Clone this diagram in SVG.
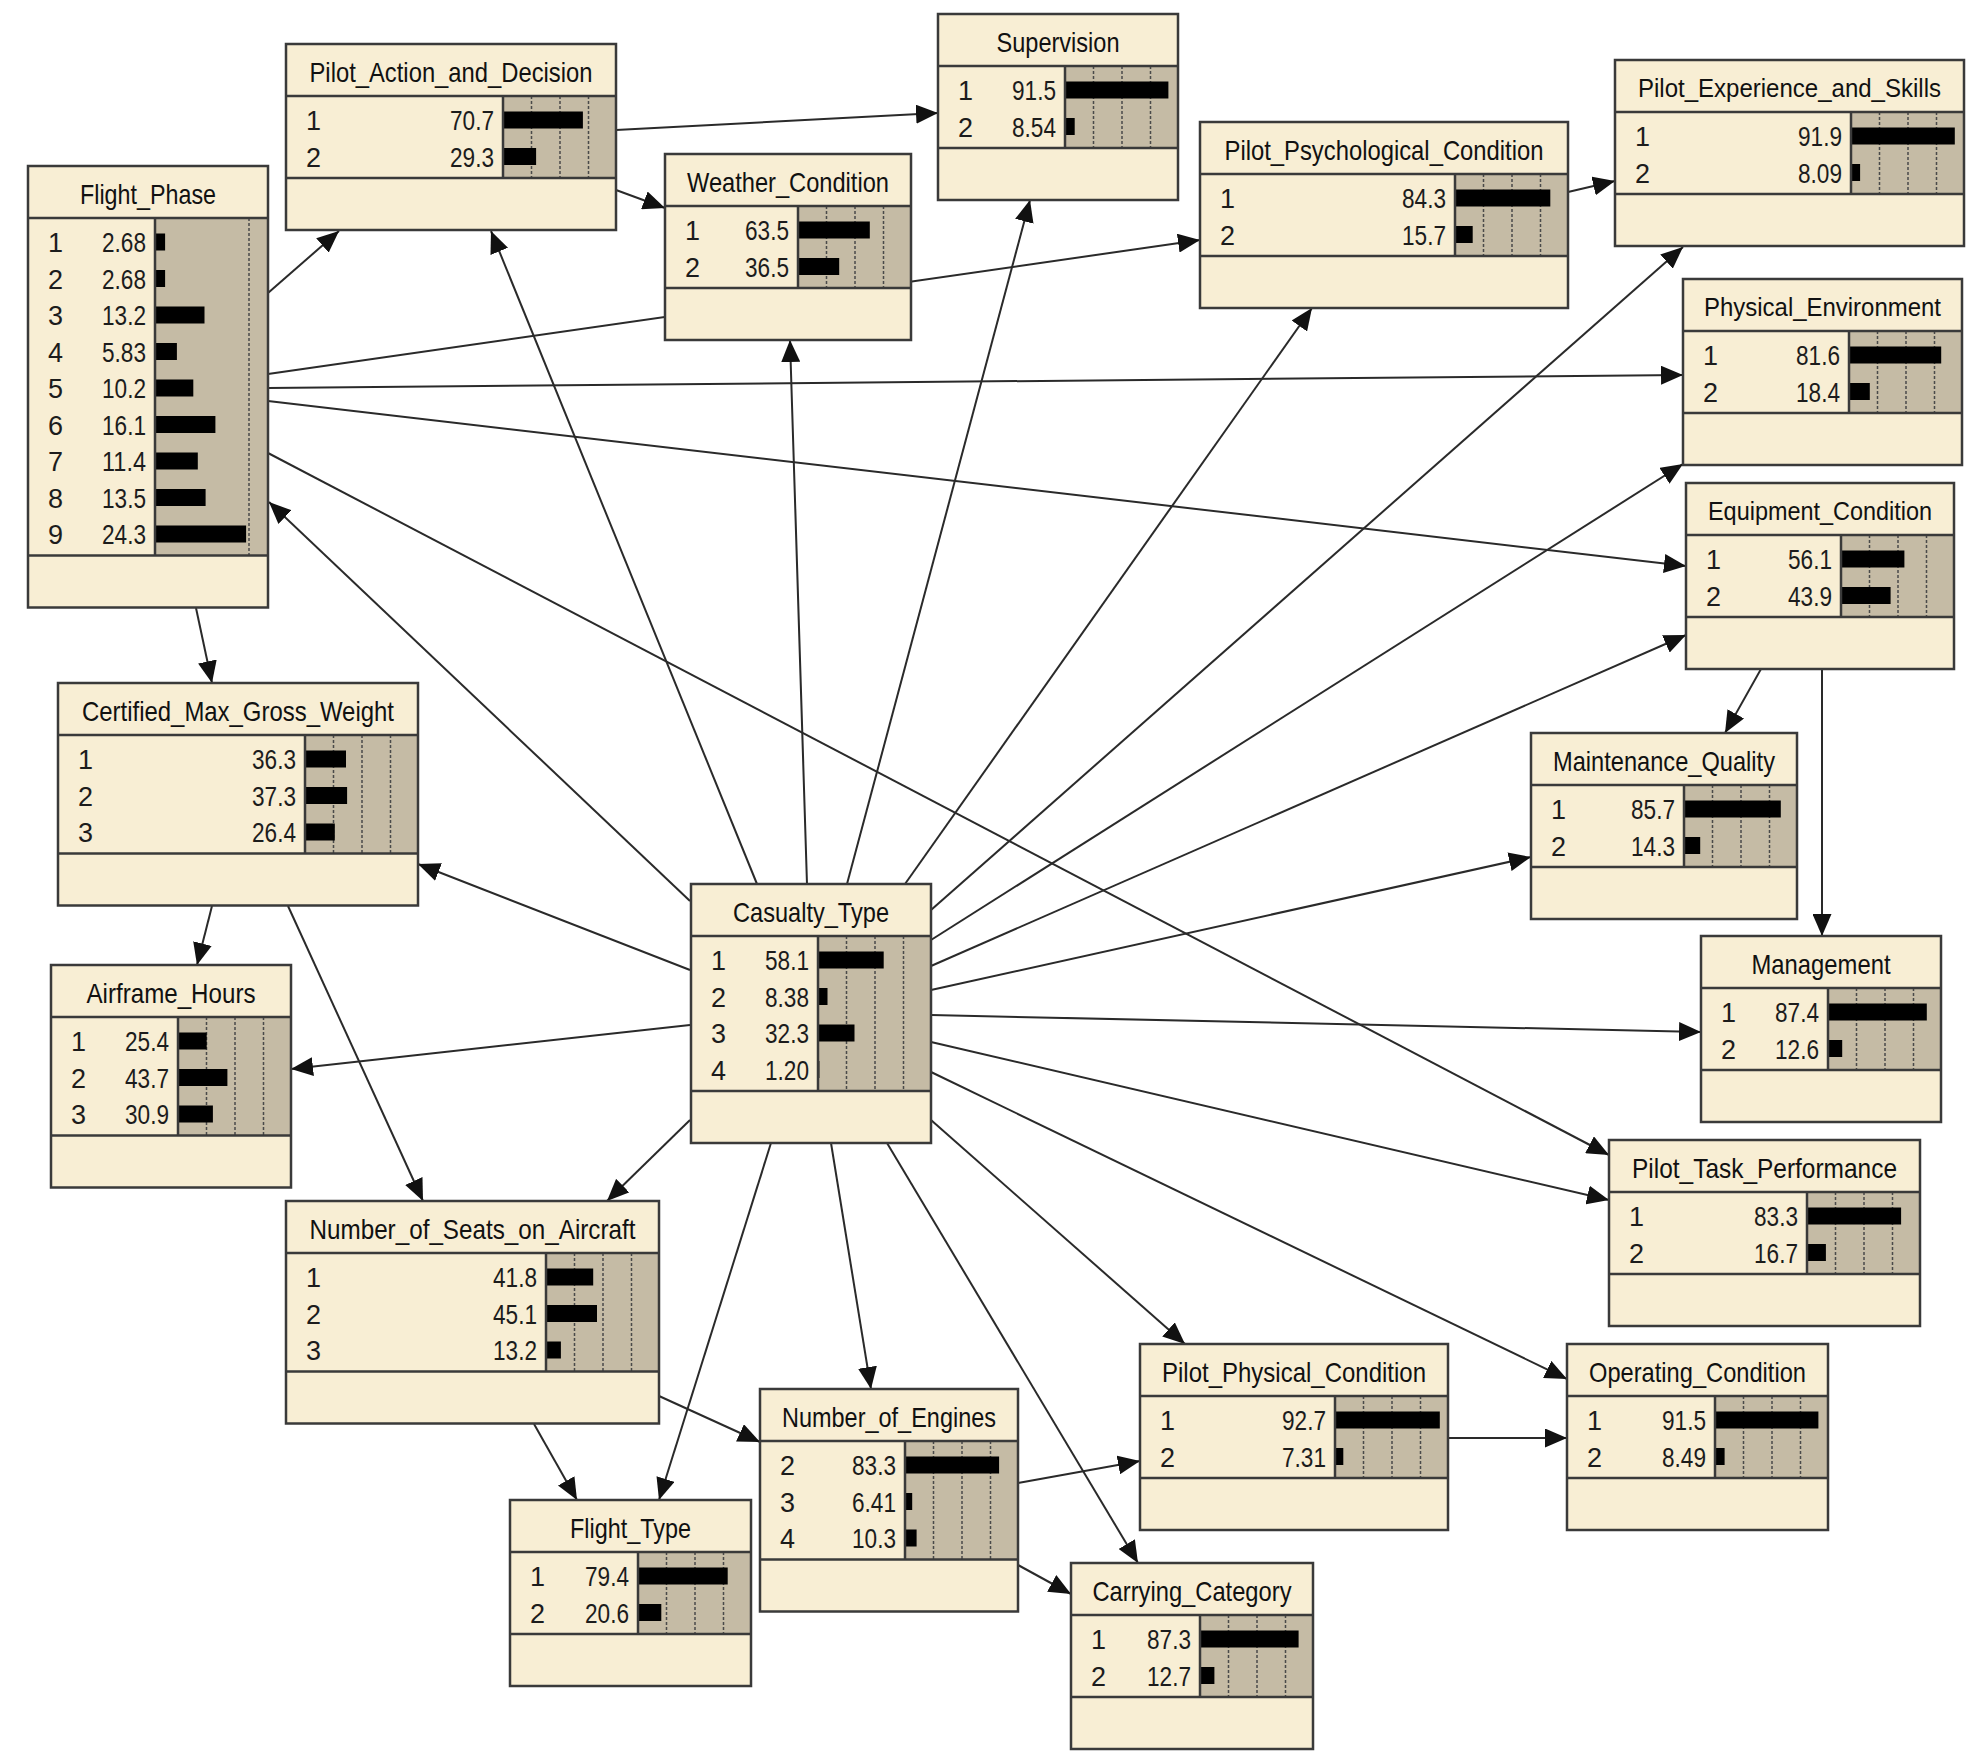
<svg xmlns="http://www.w3.org/2000/svg" width="1978" height="1761" viewBox="0 0 1978 1761">
<defs>
<marker id="a" viewBox="0 0 22 19" refX="22" refY="9.5" markerWidth="22" markerHeight="19" markerUnits="userSpaceOnUse" orient="auto"><path d="M0,0 L22,9.5 L0,19 z" fill="#111"/></marker>
<style>
.f{fill:#f8eed4}
.o{fill:none;stroke:#3a3a3a;stroke-width:2.5}
.bb{fill:#c5bba5}
.sp{stroke:#3a3a3a;stroke-width:2.5}
.g{stroke:#4a4a4a;stroke-width:1.5;stroke-dasharray:3,2}
.b{fill:#000}
.t{font-family:"Liberation Sans",Arial,sans-serif;font-size:28px;fill:#111;text-anchor:middle}
.t2{font-family:"Liberation Sans",Arial,sans-serif;font-size:26px;fill:#111;text-anchor:middle}
.s{font-family:"Liberation Sans",Arial,sans-serif;font-size:27px;fill:#1c1c1c}
.v{font-family:"Liberation Sans",Arial,sans-serif;font-size:27px;fill:#1c1c1c;text-anchor:end}
.e{stroke:#2a2a2a;stroke-width:2;fill:none;marker-end:url(#a)}
</style>
</defs>
<rect width="1978" height="1761" fill="#fff"/>
<g id="connectors">
<line class="e" x1="268" y1="293" x2="339" y2="231"/>
<line class="e" x1="268" y1="374" x2="1200" y2="240"/>
<line class="e" x1="268" y1="388" x2="1683" y2="375"/>
<line class="e" x1="268" y1="401" x2="1686" y2="566"/>
<line class="e" x1="268" y1="453" x2="1609" y2="1155"/>
<line class="e" x1="690" y1="901" x2="269" y2="502"/>
<line class="e" x1="757" y1="884" x2="491" y2="231"/>
<line class="e" x1="807" y1="884" x2="790" y2="340"/>
<line class="e" x1="847" y1="884" x2="1030" y2="200"/>
<line class="e" x1="905" y1="884" x2="1312" y2="308"/>
<line class="e" x1="931" y1="910" x2="1683" y2="247"/>
<line class="e" x1="931" y1="940" x2="1683" y2="464"/>
<line class="e" x1="931" y1="966" x2="1686" y2="635"/>
<line class="e" x1="931" y1="990" x2="1531" y2="857"/>
<line class="e" x1="931" y1="1015" x2="1701" y2="1032"/>
<line class="e" x1="931" y1="1042" x2="1609" y2="1200"/>
<line class="e" x1="931" y1="1072" x2="1567" y2="1379"/>
<line class="e" x1="931" y1="1120" x2="1185" y2="1344"/>
<line class="e" x1="887" y1="1143" x2="1138" y2="1563"/>
<line class="e" x1="831" y1="1143" x2="871" y2="1389"/>
<line class="e" x1="771" y1="1143" x2="659" y2="1500"/>
<line class="e" x1="690" y1="1120" x2="607" y2="1201"/>
<line class="e" x1="690" y1="1025" x2="291" y2="1069"/>
<line class="e" x1="690" y1="970" x2="418" y2="864"/>
<line class="e" x1="196" y1="608" x2="212" y2="683"/>
<line class="e" x1="212" y1="906" x2="197" y2="965"/>
<line class="e" x1="288" y1="906" x2="423" y2="1201"/>
<line class="e" x1="616" y1="130" x2="938" y2="113"/>
<line class="e" x1="616" y1="190" x2="665" y2="208"/>
<line class="e" x1="1568" y1="192" x2="1615" y2="181"/>
<line class="e" x1="1761" y1="669" x2="1725" y2="733"/>
<line class="e" x1="1822" y1="669" x2="1822" y2="936"/>
<line class="e" x1="534" y1="1424" x2="577" y2="1500"/>
<line class="e" x1="659" y1="1396" x2="760" y2="1442"/>
<line class="e" x1="1018" y1="1483" x2="1140" y2="1461"/>
<line class="e" x1="1018" y1="1565" x2="1071" y2="1594"/>
<line class="e" x1="1448" y1="1438" x2="1567" y2="1438"/>
</g>

<g id="n-Flight_Phase">
<rect class="f" x="28" y="166" width="240" height="441.5"/>
<rect class="bb" x="155" y="218" width="113" height="337.5"/>
<line class="g" x1="249" y1="218" x2="249" y2="555.5"/>
<rect class="b" x="155" y="233.5" width="10.1" height="17"/>
<rect class="b" x="155" y="270" width="10.1" height="17"/>
<rect class="b" x="155" y="306.5" width="49.5" height="17"/>
<rect class="b" x="155" y="343" width="21.9" height="17"/>
<rect class="b" x="155" y="379.5" width="38.3" height="17"/>
<rect class="b" x="155" y="416" width="60.4" height="17"/>
<rect class="b" x="155" y="452.5" width="42.8" height="17"/>
<rect class="b" x="155" y="489" width="50.6" height="17"/>
<rect class="b" x="155" y="525.5" width="91.1" height="17"/>
<line class="sp" x1="28" y1="218" x2="268" y2="218"/>
<line class="sp" x1="28" y1="555.5" x2="268" y2="555.5"/>
<line class="sp" x1="155" y1="218" x2="155" y2="555.5"/>
<text class="t" x="148" y="204" textLength="136" lengthAdjust="spacingAndGlyphs">Flight_Phase</text>
<text class="s" x="48" y="252">1</text><text class="v" x="146" y="252" textLength="44" lengthAdjust="spacingAndGlyphs">2.68</text>
<text class="s" x="48" y="288.5">2</text><text class="v" x="146" y="288.5" textLength="44" lengthAdjust="spacingAndGlyphs">2.68</text>
<text class="s" x="48" y="325">3</text><text class="v" x="146" y="325" textLength="44" lengthAdjust="spacingAndGlyphs">13.2</text>
<text class="s" x="48" y="361.5">4</text><text class="v" x="146" y="361.5" textLength="44" lengthAdjust="spacingAndGlyphs">5.83</text>
<text class="s" x="48" y="398">5</text><text class="v" x="146" y="398" textLength="44" lengthAdjust="spacingAndGlyphs">10.2</text>
<text class="s" x="48" y="434.5">6</text><text class="v" x="146" y="434.5" textLength="44" lengthAdjust="spacingAndGlyphs">16.1</text>
<text class="s" x="48" y="471">7</text><text class="v" x="146" y="471" textLength="44" lengthAdjust="spacingAndGlyphs">11.4</text>
<text class="s" x="48" y="507.5">8</text><text class="v" x="146" y="507.5" textLength="44" lengthAdjust="spacingAndGlyphs">13.5</text>
<text class="s" x="48" y="544">9</text><text class="v" x="146" y="544" textLength="44" lengthAdjust="spacingAndGlyphs">24.3</text>
<rect class="o" x="28" y="166" width="240" height="441.5"/>
</g>

<g id="n-Pilot_Action_and_Decision">
<rect class="f" x="286" y="44" width="330" height="186"/>
<rect class="bb" x="503" y="96" width="113" height="82"/>
<line class="g" x1="531.5" y1="96" x2="531.5" y2="178"/><line class="g" x1="560" y1="96" x2="560" y2="178"/><line class="g" x1="588.5" y1="96" x2="588.5" y2="178"/>
<rect class="b" x="503" y="111.5" width="79.9" height="17"/>
<rect class="b" x="503" y="148" width="33.1" height="17"/>
<line class="sp" x1="286" y1="96" x2="616" y2="96"/>
<line class="sp" x1="286" y1="178" x2="616" y2="178"/>
<line class="sp" x1="503" y1="96" x2="503" y2="178"/>
<text class="t" x="451" y="82" textLength="283" lengthAdjust="spacingAndGlyphs">Pilot_Action_and_Decision</text>
<text class="s" x="306" y="130">1</text><text class="v" x="494" y="130" textLength="44" lengthAdjust="spacingAndGlyphs">70.7</text>
<text class="s" x="306" y="166.5">2</text><text class="v" x="494" y="166.5" textLength="44" lengthAdjust="spacingAndGlyphs">29.3</text>
<rect class="o" x="286" y="44" width="330" height="186"/>
</g>

<g id="n-Weather_Condition">
<rect class="f" x="665" y="154" width="246" height="186"/>
<rect class="bb" x="798" y="206" width="113" height="82"/>
<line class="g" x1="826.5" y1="206" x2="826.5" y2="288"/><line class="g" x1="855" y1="206" x2="855" y2="288"/><line class="g" x1="883.5" y1="206" x2="883.5" y2="288"/>
<rect class="b" x="798" y="221.5" width="71.8" height="17"/>
<rect class="b" x="798" y="258" width="41.2" height="17"/>
<line class="sp" x1="665" y1="206" x2="911" y2="206"/>
<line class="sp" x1="665" y1="288" x2="911" y2="288"/>
<line class="sp" x1="798" y1="206" x2="798" y2="288"/>
<text class="t" x="788" y="192" textLength="202" lengthAdjust="spacingAndGlyphs">Weather_Condition</text>
<text class="s" x="685" y="240">1</text><text class="v" x="789" y="240" textLength="44" lengthAdjust="spacingAndGlyphs">63.5</text>
<text class="s" x="685" y="276.5">2</text><text class="v" x="789" y="276.5" textLength="44" lengthAdjust="spacingAndGlyphs">36.5</text>
<rect class="o" x="665" y="154" width="246" height="186"/>
</g>

<g id="n-Supervision">
<rect class="f" x="938" y="14" width="240" height="186"/>
<rect class="bb" x="1065" y="66" width="113" height="82"/>
<line class="g" x1="1093.5" y1="66" x2="1093.5" y2="148"/><line class="g" x1="1122" y1="66" x2="1122" y2="148"/><line class="g" x1="1150.5" y1="66" x2="1150.5" y2="148"/>
<rect class="b" x="1065" y="81.5" width="103.4" height="17"/>
<rect class="b" x="1065" y="118" width="9.7" height="17"/>
<line class="sp" x1="938" y1="66" x2="1178" y2="66"/>
<line class="sp" x1="938" y1="148" x2="1178" y2="148"/>
<line class="sp" x1="1065" y1="66" x2="1065" y2="148"/>
<text class="t" x="1058" y="52" textLength="123" lengthAdjust="spacingAndGlyphs">Supervision</text>
<text class="s" x="958" y="100">1</text><text class="v" x="1056" y="100" textLength="44" lengthAdjust="spacingAndGlyphs">91.5</text>
<text class="s" x="958" y="136.5">2</text><text class="v" x="1056" y="136.5" textLength="44" lengthAdjust="spacingAndGlyphs">8.54</text>
<rect class="o" x="938" y="14" width="240" height="186"/>
</g>

<g id="n-Pilot_Psychological_Condition">
<rect class="f" x="1200" y="122" width="368" height="186"/>
<rect class="bb" x="1455" y="174" width="113" height="82"/>
<line class="g" x1="1483.5" y1="174" x2="1483.5" y2="256"/><line class="g" x1="1512" y1="174" x2="1512" y2="256"/><line class="g" x1="1540.5" y1="174" x2="1540.5" y2="256"/>
<rect class="b" x="1455" y="189.5" width="95.3" height="17"/>
<rect class="b" x="1455" y="226" width="17.7" height="17"/>
<line class="sp" x1="1200" y1="174" x2="1568" y2="174"/>
<line class="sp" x1="1200" y1="256" x2="1568" y2="256"/>
<line class="sp" x1="1455" y1="174" x2="1455" y2="256"/>
<text class="t" x="1384" y="160" textLength="319" lengthAdjust="spacingAndGlyphs">Pilot_Psychological_Condition</text>
<text class="s" x="1220" y="208">1</text><text class="v" x="1446" y="208" textLength="44" lengthAdjust="spacingAndGlyphs">84.3</text>
<text class="s" x="1220" y="244.5">2</text><text class="v" x="1446" y="244.5" textLength="44" lengthAdjust="spacingAndGlyphs">15.7</text>
<rect class="o" x="1200" y="122" width="368" height="186"/>
</g>

<g id="n-Pilot_Experience_and_Skills">
<rect class="f" x="1615" y="60" width="349" height="186"/>
<rect class="bb" x="1851" y="112" width="113" height="82"/>
<line class="g" x1="1879.5" y1="112" x2="1879.5" y2="194"/><line class="g" x1="1908" y1="112" x2="1908" y2="194"/><line class="g" x1="1936.5" y1="112" x2="1936.5" y2="194"/>
<rect class="b" x="1851" y="127.5" width="103.8" height="17"/>
<rect class="b" x="1851" y="164" width="9.1" height="17"/>
<line class="sp" x1="1615" y1="112" x2="1964" y2="112"/>
<line class="sp" x1="1615" y1="194" x2="1964" y2="194"/>
<line class="sp" x1="1851" y1="112" x2="1851" y2="194"/>
<text class="t2" x="1789.5" y="97" textLength="303" lengthAdjust="spacingAndGlyphs">Pilot_Experience_and_Skills</text>
<text class="s" x="1635" y="146">1</text><text class="v" x="1842" y="146" textLength="44" lengthAdjust="spacingAndGlyphs">91.9</text>
<text class="s" x="1635" y="182.5">2</text><text class="v" x="1842" y="182.5" textLength="44" lengthAdjust="spacingAndGlyphs">8.09</text>
<rect class="o" x="1615" y="60" width="349" height="186"/>
</g>

<g id="n-Physical_Environment">
<rect class="f" x="1683" y="279" width="279" height="186"/>
<rect class="bb" x="1849" y="331" width="113" height="82"/>
<line class="g" x1="1877.5" y1="331" x2="1877.5" y2="413"/><line class="g" x1="1906" y1="331" x2="1906" y2="413"/><line class="g" x1="1934.5" y1="331" x2="1934.5" y2="413"/>
<rect class="b" x="1849" y="346.5" width="92.2" height="17"/>
<rect class="b" x="1849" y="383" width="20.8" height="17"/>
<line class="sp" x1="1683" y1="331" x2="1962" y2="331"/>
<line class="sp" x1="1683" y1="413" x2="1962" y2="413"/>
<line class="sp" x1="1849" y1="331" x2="1849" y2="413"/>
<text class="t2" x="1822.5" y="316" textLength="237" lengthAdjust="spacingAndGlyphs">Physical_Environment</text>
<text class="s" x="1703" y="365">1</text><text class="v" x="1840" y="365" textLength="44" lengthAdjust="spacingAndGlyphs">81.6</text>
<text class="s" x="1703" y="401.5">2</text><text class="v" x="1840" y="401.5" textLength="44" lengthAdjust="spacingAndGlyphs">18.4</text>
<rect class="o" x="1683" y="279" width="279" height="186"/>
</g>

<g id="n-Equipment_Condition">
<rect class="f" x="1686" y="483" width="268" height="186"/>
<rect class="bb" x="1841" y="535" width="113" height="82"/>
<line class="g" x1="1869.5" y1="535" x2="1869.5" y2="617"/><line class="g" x1="1898" y1="535" x2="1898" y2="617"/><line class="g" x1="1926.5" y1="535" x2="1926.5" y2="617"/>
<rect class="b" x="1841" y="550.5" width="63.4" height="17"/>
<rect class="b" x="1841" y="587" width="49.6" height="17"/>
<line class="sp" x1="1686" y1="535" x2="1954" y2="535"/>
<line class="sp" x1="1686" y1="617" x2="1954" y2="617"/>
<line class="sp" x1="1841" y1="535" x2="1841" y2="617"/>
<text class="t2" x="1820" y="520" textLength="224" lengthAdjust="spacingAndGlyphs">Equipment_Condition</text>
<text class="s" x="1706" y="569">1</text><text class="v" x="1832" y="569" textLength="44" lengthAdjust="spacingAndGlyphs">56.1</text>
<text class="s" x="1706" y="605.5">2</text><text class="v" x="1832" y="605.5" textLength="44" lengthAdjust="spacingAndGlyphs">43.9</text>
<rect class="o" x="1686" y="483" width="268" height="186"/>
</g>

<g id="n-Certified_Max_Gross_Weight">
<rect class="f" x="58" y="683" width="360" height="222.5"/>
<rect class="bb" x="305" y="735" width="113" height="118.5"/>
<line class="g" x1="333.5" y1="735" x2="333.5" y2="853.5"/><line class="g" x1="362" y1="735" x2="362" y2="853.5"/><line class="g" x1="390.5" y1="735" x2="390.5" y2="853.5"/>
<rect class="b" x="305" y="750.5" width="41" height="17"/>
<rect class="b" x="305" y="787" width="42.1" height="17"/>
<rect class="b" x="305" y="823.5" width="29.8" height="17"/>
<line class="sp" x1="58" y1="735" x2="418" y2="735"/>
<line class="sp" x1="58" y1="853.5" x2="418" y2="853.5"/>
<line class="sp" x1="305" y1="735" x2="305" y2="853.5"/>
<text class="t" x="238" y="721" textLength="312" lengthAdjust="spacingAndGlyphs">Certified_Max_Gross_Weight</text>
<text class="s" x="78" y="769">1</text><text class="v" x="296" y="769" textLength="44" lengthAdjust="spacingAndGlyphs">36.3</text>
<text class="s" x="78" y="805.5">2</text><text class="v" x="296" y="805.5" textLength="44" lengthAdjust="spacingAndGlyphs">37.3</text>
<text class="s" x="78" y="842">3</text><text class="v" x="296" y="842" textLength="44" lengthAdjust="spacingAndGlyphs">26.4</text>
<rect class="o" x="58" y="683" width="360" height="222.5"/>
</g>

<g id="n-Casualty_Type">
<rect class="f" x="691" y="884" width="240" height="259"/>
<rect class="bb" x="818" y="936" width="113" height="155"/>
<line class="g" x1="846.5" y1="936" x2="846.5" y2="1091"/><line class="g" x1="875" y1="936" x2="875" y2="1091"/><line class="g" x1="903.5" y1="936" x2="903.5" y2="1091"/>
<rect class="b" x="818" y="951.5" width="65.7" height="17"/>
<rect class="b" x="818" y="988" width="9.5" height="17"/>
<rect class="b" x="818" y="1024.5" width="36.5" height="17"/>
<rect class="b" x="818" y="1061" width="1.4" height="17"/>
<line class="sp" x1="691" y1="936" x2="931" y2="936"/>
<line class="sp" x1="691" y1="1091" x2="931" y2="1091"/>
<line class="sp" x1="818" y1="936" x2="818" y2="1091"/>
<text class="t" x="811" y="922" textLength="156" lengthAdjust="spacingAndGlyphs">Casualty_Type</text>
<text class="s" x="711" y="970">1</text><text class="v" x="809" y="970" textLength="44" lengthAdjust="spacingAndGlyphs">58.1</text>
<text class="s" x="711" y="1006.5">2</text><text class="v" x="809" y="1006.5" textLength="44" lengthAdjust="spacingAndGlyphs">8.38</text>
<text class="s" x="711" y="1043">3</text><text class="v" x="809" y="1043" textLength="44" lengthAdjust="spacingAndGlyphs">32.3</text>
<text class="s" x="711" y="1079.5">4</text><text class="v" x="809" y="1079.5" textLength="44" lengthAdjust="spacingAndGlyphs">1.20</text>
<rect class="o" x="691" y="884" width="240" height="259"/>
</g>

<g id="n-Maintenance_Quality">
<rect class="f" x="1531" y="733" width="266" height="186"/>
<rect class="bb" x="1684" y="785" width="113" height="82"/>
<line class="g" x1="1712.5" y1="785" x2="1712.5" y2="867"/><line class="g" x1="1741" y1="785" x2="1741" y2="867"/><line class="g" x1="1769.5" y1="785" x2="1769.5" y2="867"/>
<rect class="b" x="1684" y="800.5" width="96.8" height="17"/>
<rect class="b" x="1684" y="837" width="16.2" height="17"/>
<line class="sp" x1="1531" y1="785" x2="1797" y2="785"/>
<line class="sp" x1="1531" y1="867" x2="1797" y2="867"/>
<line class="sp" x1="1684" y1="785" x2="1684" y2="867"/>
<text class="t" x="1664" y="771" textLength="222" lengthAdjust="spacingAndGlyphs">Maintenance_Quality</text>
<text class="s" x="1551" y="819">1</text><text class="v" x="1675" y="819" textLength="44" lengthAdjust="spacingAndGlyphs">85.7</text>
<text class="s" x="1551" y="855.5">2</text><text class="v" x="1675" y="855.5" textLength="44" lengthAdjust="spacingAndGlyphs">14.3</text>
<rect class="o" x="1531" y="733" width="266" height="186"/>
</g>

<g id="n-Airframe_Hours">
<rect class="f" x="51" y="965" width="240" height="222.5"/>
<rect class="bb" x="178" y="1017" width="113" height="118.5"/>
<line class="g" x1="206.5" y1="1017" x2="206.5" y2="1135.5"/><line class="g" x1="235" y1="1017" x2="235" y2="1135.5"/><line class="g" x1="263.5" y1="1017" x2="263.5" y2="1135.5"/>
<rect class="b" x="178" y="1032.5" width="28.7" height="17"/>
<rect class="b" x="178" y="1069" width="49.4" height="17"/>
<rect class="b" x="178" y="1105.5" width="34.9" height="17"/>
<line class="sp" x1="51" y1="1017" x2="291" y2="1017"/>
<line class="sp" x1="51" y1="1135.5" x2="291" y2="1135.5"/>
<line class="sp" x1="178" y1="1017" x2="178" y2="1135.5"/>
<text class="t" x="171" y="1003" textLength="169" lengthAdjust="spacingAndGlyphs">Airframe_Hours</text>
<text class="s" x="71" y="1051">1</text><text class="v" x="169" y="1051" textLength="44" lengthAdjust="spacingAndGlyphs">25.4</text>
<text class="s" x="71" y="1087.5">2</text><text class="v" x="169" y="1087.5" textLength="44" lengthAdjust="spacingAndGlyphs">43.7</text>
<text class="s" x="71" y="1124">3</text><text class="v" x="169" y="1124" textLength="44" lengthAdjust="spacingAndGlyphs">30.9</text>
<rect class="o" x="51" y="965" width="240" height="222.5"/>
</g>

<g id="n-Management">
<rect class="f" x="1701" y="936" width="240" height="186"/>
<rect class="bb" x="1828" y="988" width="113" height="82"/>
<line class="g" x1="1856.5" y1="988" x2="1856.5" y2="1070"/><line class="g" x1="1885" y1="988" x2="1885" y2="1070"/><line class="g" x1="1913.5" y1="988" x2="1913.5" y2="1070"/>
<rect class="b" x="1828" y="1003.5" width="98.8" height="17"/>
<rect class="b" x="1828" y="1040" width="14.2" height="17"/>
<line class="sp" x1="1701" y1="988" x2="1941" y2="988"/>
<line class="sp" x1="1701" y1="1070" x2="1941" y2="1070"/>
<line class="sp" x1="1828" y1="988" x2="1828" y2="1070"/>
<text class="t" x="1821" y="974" textLength="139" lengthAdjust="spacingAndGlyphs">Management</text>
<text class="s" x="1721" y="1022">1</text><text class="v" x="1819" y="1022" textLength="44" lengthAdjust="spacingAndGlyphs">87.4</text>
<text class="s" x="1721" y="1058.5">2</text><text class="v" x="1819" y="1058.5" textLength="44" lengthAdjust="spacingAndGlyphs">12.6</text>
<rect class="o" x="1701" y="936" width="240" height="186"/>
</g>

<g id="n-Number_of_Seats_on_Aircraft">
<rect class="f" x="286" y="1201" width="373" height="222.5"/>
<rect class="bb" x="546" y="1253" width="113" height="118.5"/>
<line class="g" x1="574.5" y1="1253" x2="574.5" y2="1371.5"/><line class="g" x1="603" y1="1253" x2="603" y2="1371.5"/><line class="g" x1="631.5" y1="1253" x2="631.5" y2="1371.5"/>
<rect class="b" x="546" y="1268.5" width="47.2" height="17"/>
<rect class="b" x="546" y="1305" width="51" height="17"/>
<rect class="b" x="546" y="1341.5" width="14.9" height="17"/>
<line class="sp" x1="286" y1="1253" x2="659" y2="1253"/>
<line class="sp" x1="286" y1="1371.5" x2="659" y2="1371.5"/>
<line class="sp" x1="546" y1="1253" x2="546" y2="1371.5"/>
<text class="t" x="472.5" y="1239" textLength="326" lengthAdjust="spacingAndGlyphs">Number_of_Seats_on_Aircraft</text>
<text class="s" x="306" y="1287">1</text><text class="v" x="537" y="1287" textLength="44" lengthAdjust="spacingAndGlyphs">41.8</text>
<text class="s" x="306" y="1323.5">2</text><text class="v" x="537" y="1323.5" textLength="44" lengthAdjust="spacingAndGlyphs">45.1</text>
<text class="s" x="306" y="1360">3</text><text class="v" x="537" y="1360" textLength="44" lengthAdjust="spacingAndGlyphs">13.2</text>
<rect class="o" x="286" y="1201" width="373" height="222.5"/>
</g>

<g id="n-Pilot_Task_Performance">
<rect class="f" x="1609" y="1140" width="311" height="186"/>
<rect class="bb" x="1807" y="1192" width="113" height="82"/>
<line class="g" x1="1835.5" y1="1192" x2="1835.5" y2="1274"/><line class="g" x1="1864" y1="1192" x2="1864" y2="1274"/><line class="g" x1="1892.5" y1="1192" x2="1892.5" y2="1274"/>
<rect class="b" x="1807" y="1207.5" width="94.1" height="17"/>
<rect class="b" x="1807" y="1244" width="18.9" height="17"/>
<line class="sp" x1="1609" y1="1192" x2="1920" y2="1192"/>
<line class="sp" x1="1609" y1="1274" x2="1920" y2="1274"/>
<line class="sp" x1="1807" y1="1192" x2="1807" y2="1274"/>
<text class="t" x="1764.5" y="1178" textLength="265" lengthAdjust="spacingAndGlyphs">Pilot_Task_Performance</text>
<text class="s" x="1629" y="1226">1</text><text class="v" x="1798" y="1226" textLength="44" lengthAdjust="spacingAndGlyphs">83.3</text>
<text class="s" x="1629" y="1262.5">2</text><text class="v" x="1798" y="1262.5" textLength="44" lengthAdjust="spacingAndGlyphs">16.7</text>
<rect class="o" x="1609" y="1140" width="311" height="186"/>
</g>

<g id="n-Pilot_Physical_Condition">
<rect class="f" x="1140" y="1344" width="308" height="186"/>
<rect class="bb" x="1335" y="1396" width="113" height="82"/>
<line class="g" x1="1363.5" y1="1396" x2="1363.5" y2="1478"/><line class="g" x1="1392" y1="1396" x2="1392" y2="1478"/><line class="g" x1="1420.5" y1="1396" x2="1420.5" y2="1478"/>
<rect class="b" x="1335" y="1411.5" width="104.8" height="17"/>
<rect class="b" x="1335" y="1448" width="8.3" height="17"/>
<line class="sp" x1="1140" y1="1396" x2="1448" y2="1396"/>
<line class="sp" x1="1140" y1="1478" x2="1448" y2="1478"/>
<line class="sp" x1="1335" y1="1396" x2="1335" y2="1478"/>
<text class="t" x="1294" y="1382" textLength="264" lengthAdjust="spacingAndGlyphs">Pilot_Physical_Condition</text>
<text class="s" x="1160" y="1430">1</text><text class="v" x="1326" y="1430" textLength="44" lengthAdjust="spacingAndGlyphs">92.7</text>
<text class="s" x="1160" y="1466.5">2</text><text class="v" x="1326" y="1466.5" textLength="44" lengthAdjust="spacingAndGlyphs">7.31</text>
<rect class="o" x="1140" y="1344" width="308" height="186"/>
</g>

<g id="n-Operating_Condition">
<rect class="f" x="1567" y="1344" width="261" height="186"/>
<rect class="bb" x="1715" y="1396" width="113" height="82"/>
<line class="g" x1="1743.5" y1="1396" x2="1743.5" y2="1478"/><line class="g" x1="1772" y1="1396" x2="1772" y2="1478"/><line class="g" x1="1800.5" y1="1396" x2="1800.5" y2="1478"/>
<rect class="b" x="1715" y="1411.5" width="103.4" height="17"/>
<rect class="b" x="1715" y="1448" width="9.6" height="17"/>
<line class="sp" x1="1567" y1="1396" x2="1828" y2="1396"/>
<line class="sp" x1="1567" y1="1478" x2="1828" y2="1478"/>
<line class="sp" x1="1715" y1="1396" x2="1715" y2="1478"/>
<text class="t" x="1697.5" y="1382" textLength="217" lengthAdjust="spacingAndGlyphs">Operating_Condition</text>
<text class="s" x="1587" y="1430">1</text><text class="v" x="1706" y="1430" textLength="44" lengthAdjust="spacingAndGlyphs">91.5</text>
<text class="s" x="1587" y="1466.5">2</text><text class="v" x="1706" y="1466.5" textLength="44" lengthAdjust="spacingAndGlyphs">8.49</text>
<rect class="o" x="1567" y="1344" width="261" height="186"/>
</g>

<g id="n-Number_of_Engines">
<rect class="f" x="760" y="1389" width="258" height="222.5"/>
<rect class="bb" x="905" y="1441" width="113" height="118.5"/>
<line class="g" x1="933.5" y1="1441" x2="933.5" y2="1559.5"/><line class="g" x1="962" y1="1441" x2="962" y2="1559.5"/><line class="g" x1="990.5" y1="1441" x2="990.5" y2="1559.5"/>
<rect class="b" x="905" y="1456.5" width="94.1" height="17"/>
<rect class="b" x="905" y="1493" width="7.2" height="17"/>
<rect class="b" x="905" y="1529.5" width="11.6" height="17"/>
<line class="sp" x1="760" y1="1441" x2="1018" y2="1441"/>
<line class="sp" x1="760" y1="1559.5" x2="1018" y2="1559.5"/>
<line class="sp" x1="905" y1="1441" x2="905" y2="1559.5"/>
<text class="t" x="889" y="1427" textLength="214" lengthAdjust="spacingAndGlyphs">Number_of_Engines</text>
<text class="s" x="780" y="1475">2</text><text class="v" x="896" y="1475" textLength="44" lengthAdjust="spacingAndGlyphs">83.3</text>
<text class="s" x="780" y="1511.5">3</text><text class="v" x="896" y="1511.5" textLength="44" lengthAdjust="spacingAndGlyphs">6.41</text>
<text class="s" x="780" y="1548">4</text><text class="v" x="896" y="1548" textLength="44" lengthAdjust="spacingAndGlyphs">10.3</text>
<rect class="o" x="760" y="1389" width="258" height="222.5"/>
</g>

<g id="n-Flight_Type">
<rect class="f" x="510" y="1500" width="241" height="186"/>
<rect class="bb" x="638" y="1552" width="113" height="82"/>
<line class="g" x1="666.5" y1="1552" x2="666.5" y2="1634"/><line class="g" x1="695" y1="1552" x2="695" y2="1634"/><line class="g" x1="723.5" y1="1552" x2="723.5" y2="1634"/>
<rect class="b" x="638" y="1567.5" width="89.7" height="17"/>
<rect class="b" x="638" y="1604" width="23.3" height="17"/>
<line class="sp" x1="510" y1="1552" x2="751" y2="1552"/>
<line class="sp" x1="510" y1="1634" x2="751" y2="1634"/>
<line class="sp" x1="638" y1="1552" x2="638" y2="1634"/>
<text class="t" x="630.5" y="1538" textLength="121" lengthAdjust="spacingAndGlyphs">Flight_Type</text>
<text class="s" x="530" y="1586">1</text><text class="v" x="629" y="1586" textLength="44" lengthAdjust="spacingAndGlyphs">79.4</text>
<text class="s" x="530" y="1622.5">2</text><text class="v" x="629" y="1622.5" textLength="44" lengthAdjust="spacingAndGlyphs">20.6</text>
<rect class="o" x="510" y="1500" width="241" height="186"/>
</g>

<g id="n-Carrying_Category">
<rect class="f" x="1071" y="1563" width="242" height="186"/>
<rect class="bb" x="1200" y="1615" width="113" height="82"/>
<line class="g" x1="1228.5" y1="1615" x2="1228.5" y2="1697"/><line class="g" x1="1257" y1="1615" x2="1257" y2="1697"/><line class="g" x1="1285.5" y1="1615" x2="1285.5" y2="1697"/>
<rect class="b" x="1200" y="1630.5" width="98.6" height="17"/>
<rect class="b" x="1200" y="1667" width="14.4" height="17"/>
<line class="sp" x1="1071" y1="1615" x2="1313" y2="1615"/>
<line class="sp" x1="1071" y1="1697" x2="1313" y2="1697"/>
<line class="sp" x1="1200" y1="1615" x2="1200" y2="1697"/>
<text class="t" x="1192" y="1601" textLength="199" lengthAdjust="spacingAndGlyphs">Carrying_Category</text>
<text class="s" x="1091" y="1649">1</text><text class="v" x="1191" y="1649" textLength="44" lengthAdjust="spacingAndGlyphs">87.3</text>
<text class="s" x="1091" y="1685.5">2</text><text class="v" x="1191" y="1685.5" textLength="44" lengthAdjust="spacingAndGlyphs">12.7</text>
<rect class="o" x="1071" y="1563" width="242" height="186"/>
</g>
</svg>
